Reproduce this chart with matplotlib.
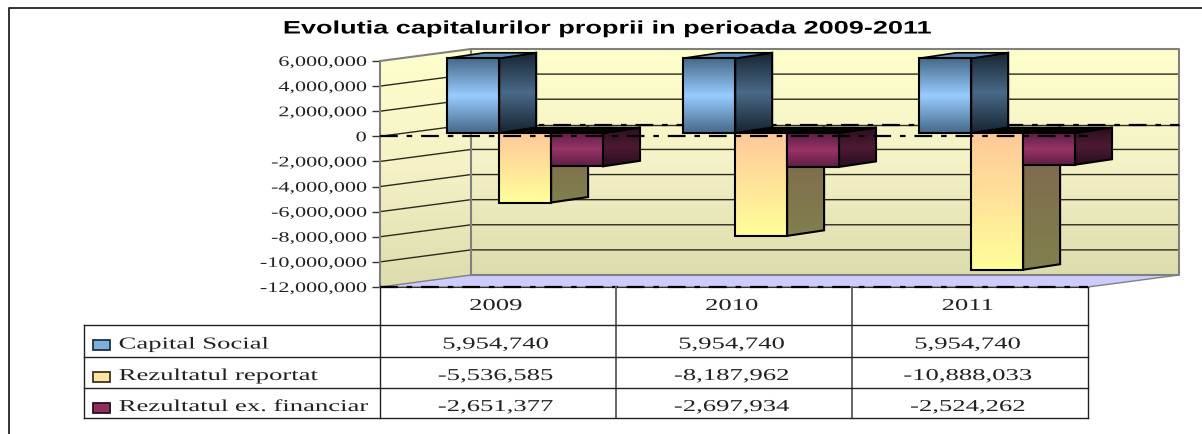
import numpy as np
import matplotlib
matplotlib.use("Agg")
import matplotlib.pyplot as plt
from matplotlib.colors import LinearSegmentedColormap
from matplotlib.lines import Line2D
from matplotlib.patches import Polygon, Rectangle
from matplotlib.patheffects import AbstractPathEffect
from matplotlib.transforms import Affine2D


# -----------------------------
# Data
# -----------------------------
TITLE = "Evolutia capitalurilor proprii in perioada 2009-2011"
YEARS = ["2009", "2010", "2011"]
SERIES_NAMES = ["Capital Social", "Rezultatul reportat", "Rezultatul ex. financiar"]
CAPITAL_SOCIAL = [5954740, 5954740, 5954740]
REZULTAT_REPORTAT = [-5536585, -8187962, -10888033]
REZULTAT_FINANCIAR = [-2651377, -2697934, -2524262]
Y_TICKS = [6000000, 4000000, 2000000, 0, -2000000, -4000000, -6000000, -8000000, -10000000, -12000000]


# -----------------------------
# Layout (pixels of the 1202x434 image)
# -----------------------------
W, H = 1202, 434
LEFT, RIGHT, TOP, BOTTOM = 380, 1088, 61, 287
WALL_DX, WALL_DY = 91, 12
BAR_LIFT = 3.3
BAR_DX, BAR_DY = 37, 5.5
BAR_START, BAR_WIDTH = 0.285, 0.22
PX_X = 3 / (RIGHT - LEFT)
PX_Y = 18000000 / (BOTTOM - TOP)
SERIF = "Liberation Serif"
TICK_SIZE, TICK_STRETCH = 10.5, 1.52
TABLE_SIZE, TABLE_STRETCH = 12, 1.6
TEXT_COLOR = "#222222"


class Stretch(AbstractPathEffect):
    # the original picture was widened, so the text is widened too
    def __init__(self, sx, align=0.5):
        super().__init__()
        self.sx = sx
        self.align = align

    def draw_path(self, renderer, gc, tpath, affine, rgbFace=None):
        ext = affine.transform_path(tpath).get_extents()
        px = ext.x0 + self.align * ext.width
        wide = affine + Affine2D().translate(-px, 0).scale(self.sx, 1).translate(px, 0)
        renderer.draw_path(gc, tpath, wide, rgbFace)


fig = plt.figure(figsize=(W / 100, H / 100), dpi=100)
ax = fig.add_axes([LEFT / W, 1 - BOTTOM / H, (RIGHT - LEFT) / W, (BOTTOM - TOP) / H])
ax.set_xlim(0, 3)
ax.set_ylim(-12000000, 6000000)


def xpx(px):
    return (px - LEFT) * PX_X


def ypx(py):
    return 6000000 - (py - TOP) * PX_Y


def gradient_poly(points, colors, zorder):
    # polygon filled with a vertical gradient, top colour first
    cmap = LinearSegmentedColormap.from_list("g", colors)
    xs = [p[0] for p in points]
    ys = [p[1] for p in points]
    im = ax.imshow(
        np.linspace(0, 1, 128).reshape(-1, 1),
        cmap=cmap,
        extent=(min(xs), max(xs), min(ys), max(ys)),
        aspect="auto",
        interpolation="bilinear",
        zorder=zorder,
    )
    clip = Polygon(points, closed=True, transform=ax.transData)
    im.set_clip_box(fig.bbox)
    im.set_clip_path(clip)


def outline(points, zorder, color="black", lw=1.5):
    ax.add_patch(Polygon(points, closed=True, fill=False, edgecolor=color,
                         linewidth=lw, zorder=zorder, clip_on=False, joinstyle="miter"))


def draw_bar(x0, value, front, side, top_color, zorder):
    lift = BAR_LIFT * PX_Y
    dx, dy = BAR_DX * PX_X, BAR_DY * PX_Y
    x1 = x0 + BAR_WIDTH
    base, end = lift, value + lift

    side_pts = [(x1, base), (x1 + dx, base + dy), (x1 + dx, end + dy), (x1, end)]
    top_y = max(base, end)
    top_pts = [(x0, top_y), (x0 + dx, top_y + dy), (x1 + dx, top_y + dy), (x1, top_y)]
    front_pts = [(x0, base), (x1, base), (x1, end), (x0, end)]

    gradient_poly(side_pts, side, zorder)
    outline(side_pts, zorder + 0.1)
    ax.add_patch(Polygon(top_pts, closed=True, facecolor=top_color, edgecolor="black",
                         linewidth=1.2, zorder=zorder + 0.2, clip_on=False))
    gradient_poly(front_pts, front, zorder + 0.3)
    outline(front_pts, zorder + 0.4)


def serif_text(x, y, label, ha):
    align = {"left": 0.0, "center": 0.5}[ha]
    ax.text(x, y, label, ha=ha, va="center", family=SERIF, fontsize=TABLE_SIZE, color=TEXT_COLOR,
            clip_on=False, path_effects=[Stretch(TABLE_STRETCH, align)])


# -----------------------------
# Walls and floor
# -----------------------------
wdx, wdy = WALL_DX * PX_X, WALL_DY * PX_Y
ymin, ymax = -12000000, 6000000
wall_colors = ["#ffffcc", "#f4f2c6", "#dddcae"]

gradient_poly([(wdx, ymin + wdy), (3 + wdx, ymin + wdy), (3 + wdx, ymax + wdy), (wdx, ymax + wdy)],
              wall_colors, 1)
gradient_poly([(0, ymin), (wdx, ymin + wdy), (wdx, ymax + wdy), (0, ymax)], wall_colors, 1)
ax.add_patch(Polygon([(0, ymin), (wdx, ymin + wdy), (3 + wdx, ymin + wdy), (3, ymin)],
                     closed=True, facecolor="#ccccff", edgecolor="#808080",
                     linewidth=1.0, zorder=1.2, clip_on=False))

for tick in Y_TICKS[1:-1]:
    if tick == 0:
        continue
    ax.plot([0, wdx, 3 + wdx], [tick, tick + wdy, tick + wdy], color="#2b2b20",
            linewidth=1.0, zorder=1.5, clip_on=False)

wall_edge = "#808080"
ax.plot([0, wdx, wdx], [ymax, ymax + wdy, ymin + wdy], color=wall_edge, linewidth=1.5, zorder=1.6, clip_on=False)
ax.plot([wdx, 3 + wdx, 3 + wdx, wdx], [ymax + wdy, ymax + wdy, ymin + wdy, ymin + wdy],
        color=wall_edge, linewidth=1.5, zorder=1.6, clip_on=False)
ax.plot([0, 0], [ymin, ymax], color=wall_edge, linewidth=1.5, zorder=1.6, clip_on=False)

# zero plane, drawn dash-dot like the original
dashdot = (0, (8, 4, 2.5, 4))
back_zero = wdy - 0.6 * PX_Y
ax.plot([wdx, 3 + wdx], [back_zero, back_zero], color="#2b2b20", linewidth=1.0, zorder=1.7, clip_on=False)
ax.plot([wdx, 3 + wdx], [back_zero, back_zero], color="black", linewidth=1.6, linestyle=dashdot, zorder=1.7, clip_on=False)
ax.plot([0, wdx], [0, wdy], color="#2b2b20", linewidth=1.0, zorder=1.7, clip_on=False)


# -----------------------------
# Bars
# -----------------------------
blue_front = ["#45698a", "#99ccff", "#45698a"]
blue_side = ["#162432", "#4a6a88", "#162432"]
yellow_front = ["#ffc999", "#ffff99"]
yellow_side = ["#806550", "#80804d"]
purple_front = ["#5c1f45", "#993366", "#5c1f45"]
purple_side = ["#2a0e20", "#4d1a33", "#2a0e20"]

for i in range(len(YEARS)):
    x0 = i + BAR_START
    draw_bar(x0 + BAR_WIDTH, REZULTAT_REPORTAT[i], yellow_front, yellow_side, "#050505", 2)
    draw_bar(x0 + 2 * BAR_WIDTH, REZULTAT_FINANCIAR[i], purple_front, purple_side, "#050505", 3)
    draw_bar(x0, CAPITAL_SOCIAL[i], blue_front, blue_side, "#5f8fb8", 4)

ax.plot([0, 3], [0, 0], color="black", linewidth=1.6, linestyle=dashdot, zorder=6, clip_on=False)
ax.plot([0, 3], [ymin, ymin], color="#333333", linewidth=0.8, zorder=6, clip_on=False)
ax.plot([0, 3], [ymin, ymin], color="black", linewidth=1.6, linestyle=dashdot, zorder=6, clip_on=False)


# -----------------------------
# Axis
# -----------------------------
for spine in ax.spines.values():
    spine.set_visible(False)
ax.set_xticks([])
ax.set_yticks(Y_TICKS)
ax.set_yticklabels([f"{t:,}" for t in Y_TICKS], family=SERIF, fontsize=TICK_SIZE, color=TEXT_COLOR)
for label in ax.get_yticklabels():
    label.set_path_effects([Stretch(TICK_STRETCH, 1.0)])
ax.tick_params(axis="y", length=5.8, width=1.0, color="#333333", pad=4)
ax.set_xlim(0, 3)
ax.set_ylim(-12000000, 6000000)


# -----------------------------
# Data table
# -----------------------------
row_lines = [325, 357, 388, 418]
row_centers = [344.5, 376, 407]
header_center = 306
line_color = "#222222"

ax.plot([0, 0], [ypx(BOTTOM), ypx(418)], color=line_color, lw=1.0, clip_on=False, zorder=7)
for col in range(1, 4):
    ax.plot([col, col], [ypx(BOTTOM), ypx(418)], color="#666666" if col < 3 else line_color,
            lw=1.4 if col < 3 else 1.0, clip_on=False, zorder=7)
ax.plot([xpx(84), xpx(84)], [ypx(325), ypx(418)], color=line_color, lw=1.0, clip_on=False, zorder=7)
for row in row_lines:
    ax.plot([xpx(84), 3], [ypx(row), ypx(row)], color=line_color, lw=1.0, clip_on=False, zorder=7)

for i, year in enumerate(YEARS):
    serif_text(i + 0.49, ypx(header_center), year, "center")

table_rows = [CAPITAL_SOCIAL, REZULTAT_REPORTAT, REZULTAT_FINANCIAR]
key_colors = [("#7eaede", "#1f3040"), ("#ffe3a0", "#3a3420"), ("#8f2f60", "#2a0e20")]
for name, values, center, (face, edge) in zip(SERIES_NAMES, table_rows, row_centers, key_colors):
    ax.add_patch(Rectangle((xpx(93), ypx(center + 5.5)), 17 * PX_X, 10 * PX_Y, facecolor=face,
                           edgecolor=edge, linewidth=1.3, clip_on=False, zorder=7))
    serif_text(xpx(119), ypx(center), name, "left")
    for i, value in enumerate(values):
        serif_text(i + 0.49, ypx(center), f"{value:,}", "center")


# -----------------------------
# Title and frame
# -----------------------------
fig.text(607 / W, 1 - 29 / H, TITLE, ha="center", va="center", family="Liberation Sans",
         fontweight="bold", fontsize=13, color="black", path_effects=[Stretch(1.5, 0.5)])
fig.add_artist(Line2D([8.5 / W, 8.5 / W, 1], [0, 1 - 7.5 / H, 1 - 7.5 / H], color="#333333", linewidth=1.4))

fig.savefig("out.png", dpi=100)
